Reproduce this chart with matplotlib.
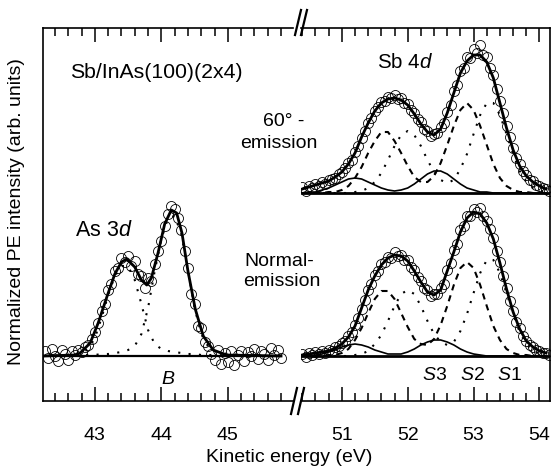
import numpy as np
import matplotlib.pyplot as plt
from matplotlib.lines import Line2D
from matplotlib.ticker import MultipleLocator

plt.rcParams['font.family'] = ['Liberation Sans', 'DejaVu Sans']
plt.rcParams['mathtext.fontset'] = 'custom'
plt.rcParams['mathtext.rm'] = 'Liberation Sans'
plt.rcParams['mathtext.it'] = 'Liberation Sans:italic'

W, H = 553, 466

# ---- As 3d, normal emission (left panel) ----
as_start, as_step = 42.25, 0.05
as_counts = [
    0.05, -0.02, 0.07, 0.00, -0.05, 0.06, 0.02, -0.04, 0.05, 0.01,
    0.06, 0.04, 0.09, 0.11, 0.17, 0.24, 0.33, 0.45, 0.52, 0.66,
    0.72, 0.85, 0.88, 0.98, 0.94, 1.00, 0.90, 0.95, 0.82, 0.80,
    0.68, 0.78, 0.75, 0.92, 1.05, 1.15, 1.30, 1.42, 1.50, 1.47,
    1.38, 1.26, 1.05, 0.88, 0.62, 0.52, 0.30, 0.28, 0.14, 0.10,
    0.02, -0.04, 0.06, -0.08, 0.03, -0.06, 0.05, -0.09, 0.01, 0.05,
    -0.05, 0.04, 0.00, 0.07, -0.03, 0.05, 0.02, -0.04, 0.08, 0.01,
    0.06, -0.02]
as_fit_e = [42.22, 42.70, 42.78, 42.93, 43.05, 43.18, 43.30, 43.40, 43.48,
            43.60, 43.70, 43.78, 43.85, 43.95, 44.05, 44.15, 44.23, 44.31,
            44.40, 44.51, 44.63, 44.78, 44.98, 45.80]
as_fit = [0.0, 0.01, 0.03, 0.13, 0.33, 0.59, 0.82, 0.94, 0.97,
          0.89, 0.76, 0.71, 0.78, 1.03, 1.32, 1.46, 1.43, 1.23,
          0.85, 0.47, 0.20, 0.06, 0.01, 0.0]
as_comp_e = [42.4, 42.5, 42.6, 42.7, 42.8, 42.9, 43.0, 43.1, 43.2, 43.3, 43.4,
             43.5, 43.6, 43.7, 43.8, 43.9, 44.0, 44.1, 44.2, 44.3, 44.4, 44.5,
             44.6, 44.7, 44.8, 44.9, 45.0, 45.1, 45.2, 45.3, 45.4]
as_d32 = [0.00, 0.01, 0.01, 0.02, 0.03, 0.07, 0.18, 0.38, 0.61, 0.80, 0.90,
          0.90, 0.76, 0.52, 0.26, 0.12, 0.07, 0.05, 0.04, 0.03, 0.02, 0.02,
          0.01, 0.01, 0.01, 0.00, 0.00, 0.00, 0.00, 0.00, 0.00]
as_d52 = [0.00, 0.00, 0.01, 0.01, 0.01, 0.01, 0.01, 0.02, 0.02, 0.03, 0.04,
          0.06, 0.10, 0.22, 0.48, 0.85, 1.17, 1.38, 1.40, 1.22, 0.86, 0.48,
          0.22, 0.10, 0.05, 0.03, 0.02, 0.01, 0.01, 0.01, 0.00]
as_base_e = [42.22, 45.78]

# ---- Sb 4d (right panel) ----
sb_start, sb_step = 50.40, 0.05
tilt_counts = [
    0.06, 0.02, 0.07, 0.05, 0.09, 0.07, 0.11, 0.09, 0.13, 0.14,
    0.15, 0.19, 0.21, 0.25, 0.30, 0.33, 0.41, 0.47, 0.55, 0.62,
    0.70, 0.75, 0.82, 0.86, 0.91, 0.92, 0.96, 0.95, 0.98, 0.94,
    0.95, 0.90, 0.89, 0.83, 0.80, 0.74, 0.71, 0.64, 0.62, 0.57,
    0.59, 0.60, 0.66, 0.70, 0.81, 0.88, 1.02, 1.08, 1.22, 1.25,
    1.36, 1.35, 1.44, 1.40, 1.48, 1.38, 1.36, 1.25, 1.18, 1.04,
    0.92, 0.80, 0.67, 0.56, 0.45, 0.35, 0.29, 0.22, 0.18, 0.13,
    0.12, 0.08, 0.07, 0.05, 0.04, 0.02]
norm_counts = [
    0.02, -0.01, 0.03, 0.01, 0.04, 0.02, 0.05, 0.03, 0.06, 0.05,
    0.09, 0.10, 0.13, 0.15, 0.20, 0.24, 0.31, 0.38, 0.47, 0.56,
    0.66, 0.72, 0.81, 0.85, 0.92, 0.94, 0.99, 0.98, 1.04, 1.00,
    1.01, 0.96, 0.96, 0.89, 0.86, 0.79, 0.75, 0.68, 0.66, 0.60,
    0.62, 0.62, 0.68, 0.72, 0.86, 0.93, 1.06, 1.12, 1.26, 1.30,
    1.40, 1.40, 1.47, 1.44, 1.48, 1.40, 1.35, 1.27, 1.18, 1.05,
    0.94, 0.80, 0.68, 0.55, 0.45, 0.34, 0.28, 0.20, 0.15, 0.11,
    0.09, 0.06, 0.05, 0.03, 0.03, 0.01]

sb_e = [50.4, 50.5, 50.6, 50.7, 50.8, 50.9, 51.0, 51.1, 51.2, 51.3, 51.4,
        51.5, 51.6, 51.7, 51.8, 51.9, 52.0, 52.1, 52.2, 52.3, 52.4, 52.5,
        52.6, 52.7, 52.8, 52.9, 53.0, 53.1, 53.2, 53.3, 53.4, 53.5, 53.6,
        53.7, 53.8, 53.9, 54.0, 54.1]

norm_fit = [0.01, 0.02, 0.03, 0.04, 0.05, 0.08, 0.12, 0.19, 0.30, 0.48, 0.66,
            0.80, 0.91, 0.98, 1.01, 1.00, 0.95, 0.85, 0.74, 0.64, 0.61, 0.66,
            0.85, 1.04, 1.24, 1.38, 1.44, 1.42, 1.33, 1.17, 0.93, 0.67, 0.44,
            0.27, 0.15, 0.09, 0.05, 0.03]
norm_s1 = [0, 0, 0, 0, 0, 0, 0.00, 0.00, 0.01, 0.02, 0.05,
           0.12, 0.21, 0.35, 0.50, 0.62, 0.66, 0.62, 0.50, 0.35, 0.22, 0.14,
           0.11, 0.14, 0.25, 0.42, 0.63, 0.83, 0.96, 0.96, 0.83, 0.63, 0.42,
           0.24, 0.12, 0.05, 0.02, 0.01]
norm_s2 = [0, 0, 0, 0.00, 0.01, 0.01, 0.03, 0.07, 0.16, 0.28, 0.43,
           0.57, 0.65, 0.65, 0.57, 0.43, 0.29, 0.17, 0.12, 0.11, 0.17, 0.31,
           0.50, 0.71, 0.88, 0.94, 0.88, 0.71, 0.50, 0.30, 0.16, 0.07, 0.03,
           0.01, 0.01, 0, 0, 0]
norm_s3 = [0.00, 0.00, 0.01, 0.02, 0.04, 0.06, 0.09, 0.11, 0.12, 0.11, 0.09,
           0.06, 0.04, 0.02, 0.02, 0.02, 0.04, 0.07, 0.11, 0.14, 0.16, 0.16,
           0.14, 0.11, 0.07, 0.04, 0.02, 0.01, 0.00, 0, 0, 0, 0,
           0, 0, 0, 0, 0]

tilt_fit = [0.04, 0.06, 0.08, 0.10, 0.12, 0.16, 0.21, 0.29, 0.40, 0.56, 0.70,
            0.82, 0.90, 0.94, 0.95, 0.93, 0.88, 0.79, 0.69, 0.61, 0.58, 0.64,
            0.80, 1.00, 1.20, 1.32, 1.38, 1.38, 1.31, 1.15, 0.90, 0.65, 0.43,
            0.27, 0.17, 0.11, 0.07, 0.04]
tilt_s1 = [0, 0, 0, 0, 0, 0, 0.00, 0.00, 0.01, 0.02, 0.05,
           0.11, 0.20, 0.33, 0.47, 0.58, 0.62, 0.58, 0.47, 0.33, 0.21, 0.13,
           0.10, 0.13, 0.24, 0.39, 0.59, 0.78, 0.90, 0.90, 0.78, 0.59, 0.39,
           0.22, 0.11, 0.05, 0.02, 0.01]
tilt_s2 = [0, 0, 0, 0.00, 0.01, 0.01, 0.03, 0.07, 0.15, 0.26, 0.40,
           0.52, 0.61, 0.61, 0.52, 0.40, 0.27, 0.16, 0.11, 0.11, 0.17, 0.30,
           0.48, 0.67, 0.83, 0.90, 0.83, 0.67, 0.48, 0.29, 0.15, 0.07, 0.03,
           0.01, 0.01, 0, 0, 0]
tilt_s3 = [0.00, 0.01, 0.01, 0.03, 0.05, 0.08, 0.11, 0.14, 0.15, 0.14, 0.11,
           0.08, 0.05, 0.03, 0.02, 0.03, 0.05, 0.09, 0.14, 0.19, 0.22, 0.22,
           0.19, 0.14, 0.09, 0.05, 0.03, 0.01, 0.01, 0, 0, 0, 0,
           0, 0, 0, 0, 0]
tilt_offset = 1.63
sb_base_e = [50.40, 54.16]


def fx(px):
    return px / W


def fy(py):
    return 1 - py / H


fig = plt.figure(figsize=(W / 100, H / 100), dpi=100)
ax1 = fig.add_axes([fx(43), fy(401), fx(293) - fx(43), fy(28) - fy(401)])
ax2 = fig.add_axes([fx(301), fy(401), fx(550) - fx(301), fy(28) - fy(401)])

circ = dict(ls='none', marker='o', ms=7.2, mfc='none', mec='black', mew=0.6)
fit_kw = dict(color='black', lw=2.0)
dot_kw = dict(color='black', lw=1.5, ls=(0, (1, 4)))
dash_kw = dict(color='black', lw=1.5, ls=(0, (3, 2.5)))
s3_kw = dict(color='black', lw=1.2)

# left panel
as_e = as_start + as_step * np.arange(len(as_counts))
ax1.plot(as_e, as_counts, **circ)
ax1.plot(as_base_e, [0, 0], color='black', lw=1.6)
ax1.plot(as_comp_e, as_d32, **dot_kw)
ax1.plot(as_comp_e, as_d52, **dot_kw)
ax1.plot(as_fit_e, as_fit, **fit_kw)

# right panel
sb_x = sb_start + sb_step * np.arange(len(norm_counts))
ax2.plot(sb_x, norm_counts, **circ)
ax2.plot(sb_x, np.array(tilt_counts) + tilt_offset, **circ)
for off, s1, s2, s3, fit in [(0, norm_s1, norm_s2, norm_s3, norm_fit),
                             (tilt_offset, tilt_s1, tilt_s2, tilt_s3, tilt_fit)]:
    ax2.plot(sb_base_e, [off, off], color='black', lw=2.0)
    ax2.plot(sb_e, np.array(s1) + off, **dot_kw)
    ax2.plot(sb_e, np.array(s2) + off, **dash_kw)
    ax2.plot(sb_e, np.array(s3) + off, **s3_kw)
    ax2.plot(sb_e, np.array(fit) + off, **fit_kw)

ax1.set_xlim(42.22, 45.98)
ax2.set_xlim(50.38, 54.16)
for ax in (ax1, ax2):
    ax.set_ylim(-0.45, 3.28)
    ax.set_yticks([])
    ax.xaxis.set_major_locator(MultipleLocator(1))
    ax.xaxis.set_minor_locator(MultipleLocator(0.2))
    ax.tick_params(axis='x', which='both', direction='in', top=True,
                   bottom=True, width=1.1, labelsize=14, pad=19)
    ax.tick_params(axis='x', which='major', length=10)
    ax.tick_params(axis='x', which='minor', length=5.5)
    for sp in ax.spines.values():
        sp.set_linewidth(1.2)
ax1.spines['right'].set_visible(False)
ax2.spines['left'].set_visible(False)

# break marks
for x0, y0, y1 in [(295, 35, 10), (301, 35, 10), (291, 414, 388), (298, 414, 388)]:
    fig.add_artist(Line2D([fx(x0), fx(x0 + 6)], [fy(y0), fy(y1)],
                          color='black', lw=1.6))

fs = 14
fig.text(fx(289), fy(458), 'Kinetic energy (eV)', fontsize=fs, ha='center', va='center')
fig.text(fx(17), fy(212), 'Normalized PE intensity (arb. units)', fontsize=fs,
         rotation=90, ha='center', va='center')
fig.text(fx(70), fy(73), 'Sb/InAs(100)(2x4)', fontsize=15.3, ha='left', va='center')
fig.text(fx(75), fy(230), r'As 3$\mathit{d}$', fontsize=15.5, ha='left', va='center')
fig.text(fx(377), fy(62), r'Sb 4$\mathit{d}$', fontsize=14.8, ha='left', va='center')
fig.text(fx(263), fy(122), '60\u00b0 -', fontsize=fs, ha='left', va='center')
fig.text(fx(240), fy(144), 'emission', fontsize=fs, ha='left', va='center')
fig.text(fx(244), fy(261), 'Normal-', fontsize=fs, ha='left', va='center')
fig.text(fx(243), fy(281), 'emission', fontsize=fs, ha='left', va='center')
fig.text(fx(168), fy(380), r'$\mathit{B}$', fontsize=fs, ha='center', va='center')
for lab, xp in [('3', 435), ('2', 472), ('1', 509)]:
    fig.text(fx(xp), fy(375), r'$\mathit{S}$' + lab, fontsize=fs, ha='center', va='center')

fig.savefig('out.png', dpi=100)
